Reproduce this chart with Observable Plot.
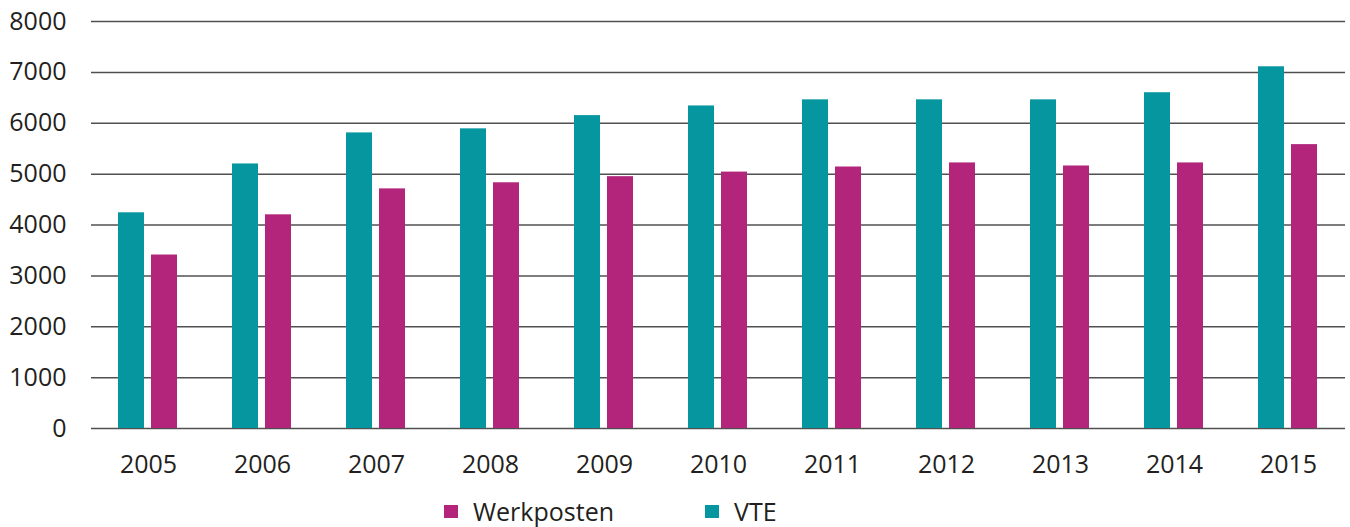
<!DOCTYPE html>
<html>
<head>
<meta charset="utf-8">
<script src="https://cdn.jsdelivr.net/npm/d3@7"></script>
<script src="https://cdn.jsdelivr.net/npm/@observablehq/plot@0.6"></script>
<style>
  body { margin: 0; background: white; }
  #legend { display: flex; align-items: center; box-sizing: border-box; height: 42px; padding-top: 10px; margin-left: 444px; font-family: "Open Sans", sans-serif; font-size: 25px; line-height: 1; color: #231f20; }
  .item { display: flex; align-items: center; }
  .sw { width: 14px; height: 13px; margin-right: 15px; }
</style>
</head>
<body>
<div id="chart"></div>
<div id="legend"></div>
<script>
const years = ["2005","2006","2007","2008","2009","2010","2011","2012","2013","2014","2015"];
const vte = [4240, 5200, 5810, 5890, 6150, 6340, 6460, 6460, 6460, 6600, 7110];
const werkposten = [3410, 4200, 4710, 4830, 4950, 5040, 5140, 5220, 5160, 5220, 5580];
const series = ["VTE", "Werkposten"];
const colors = ["#0596a0", "#b2257a"];
const yTicks = [0, 1000, 2000, 3000, 4000, 5000, 6000, 7000, 8000];
const legendOrder = ["Werkposten", "VTE"];

const data = years.flatMap((y, i) => [
  {year: y, series: "VTE", value: vte[i]},
  {year: y, series: "Werkposten", value: werkposten[i]}
]);

const chart = Plot.plot({
  width: 1350,
  height: 485,
  marginLeft: 89,
  marginRight: 4,
  marginTop: 21,
  marginBottom: 57,
  style: {fontFamily: "Open Sans, sans-serif", fontSize: "25px", color: "#231f20", background: "white"},
  fx: {domain: years, padding: 0, label: null, axis: "bottom", tickSize: 0, tickPadding: 27},
  x: {domain: series, paddingInner: 0.2, paddingOuter: 0.82, axis: null},
  y: {domain: [0, 8000], ticks: yTicks, tickFormat: d3.format("d"), tickSize: 0, tickPadding: 25, label: null},
  color: {domain: series, range: colors},
  marks: [
    Plot.ruleY(yTicks, {stroke: "#505050", strokeWidth: 1.5}),
    Plot.barY(data, {fx: "year", x: "series", y: "value", fill: "series"})
  ]
});
document.getElementById("chart").appendChild(chart);

const legend = document.getElementById("legend");
legendOrder.forEach((name, i) => {
  const item = document.createElement("div");
  item.className = "item";
  if (i > 0) item.style.marginLeft = "91px";
  const sw = document.createElement("div");
  sw.className = "sw";
  sw.style.background = colors[series.indexOf(name)];
  const t = document.createElement("span");
  t.textContent = name;
  item.appendChild(sw);
  item.appendChild(t);
  legend.appendChild(item);
});
</script>
</body>
</html>
